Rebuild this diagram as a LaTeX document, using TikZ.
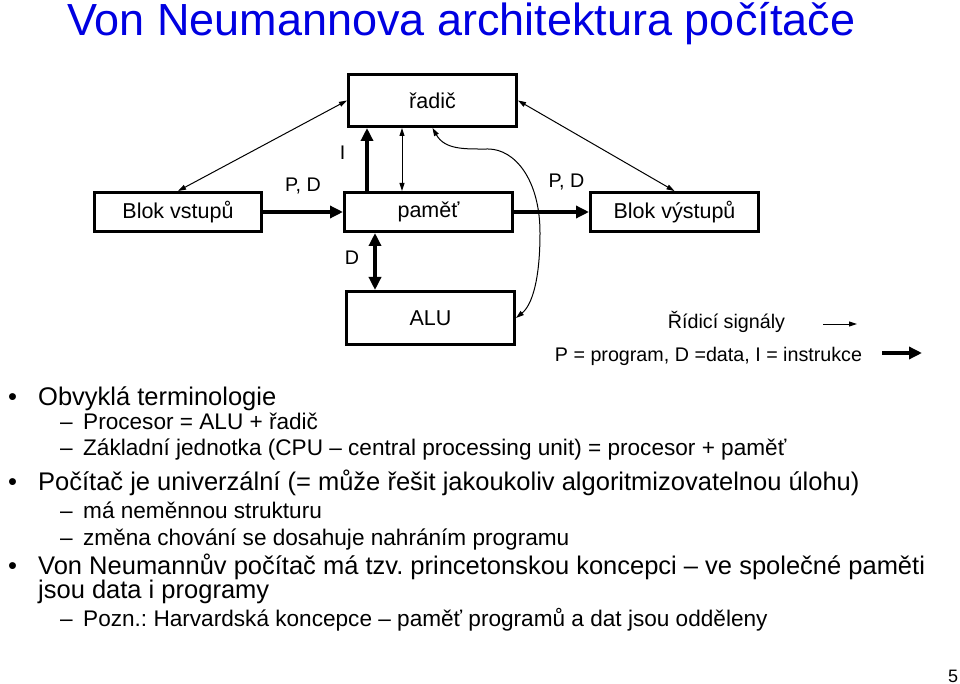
\documentclass[tikz,border=0pt]{standalone}
\usepackage{fontspec}
\setmainfont{Liberation Sans}
\usetikzlibrary{calc, arrows.meta}
\definecolor{titleblue}{RGB}{0,0,225}
\frenchspacing

\begin{document}
\begin{tikzpicture}[x=1pt,y=-1pt,
        blok/.style={draw, line width=3pt, inner sep=0pt, font=\fontsize{21.5}{26}\selectfont},
        lbl/.style={inner sep=0pt, anchor=base, font=\fontsize{19.7}{24}\selectfont},
        lone/.style={inner sep=0pt, anchor=base west, font=\fontsize{25.5}{30}\selectfont},
        ltwo/.style={inner sep=0pt, anchor=base west, font=\fontsize{22.6}{26}\selectfont},
        datatok/.style={line width=4pt, -{Triangle[length=13pt,width=12pt]}},
        datatok2/.style={line width=4pt, {Triangle[length=13pt,width=12pt]}-{Triangle[length=13pt,width=12pt]}},
        rizeni/.style={line width=1pt, {Triangle[length=8pt,width=5pt]}-{Triangle[length=8pt,width=5pt]}}]
            \useasboundingbox (0,0) rectangle (960,684);
            \node[inner sep=0pt, anchor=base west, text=titleblue, font=\fontsize{45}{50}\selectfont] (title) at (67,36) {Von Neumannova architektura počítače};
            % bloky
            \node[blok, minimum width=168pt, minimum height=52pt] (radic) at (432.5,100.5) {řadič};
            \node[blok, minimum width=168pt, minimum height=39pt] (mem) at (428.5,212) {paměť};
            \node[blok, minimum width=168pt, minimum height=53pt] (alu) at (430.5,318) {ALU};
            \node[blok, minimum width=167pt, minimum height=39pt] (vstup) at (178,212) {Blok vstupů};
            \node[blok, minimum width=168pt, minimum height=39pt] (vystup) at (674.5,212) {Blok výstupů};
            % toky dat
            \draw[datatok] (vstup.east) -- (mem.west);
            \draw[datatok] (mem.east) -- (vystup.west);
            \coordinate (iz) at ([xshift=24pt]mem.north west);
            \coordinate (rz) at ([xshift=59pt]mem.north west);
            \coordinate (dz) at ([xshift=32pt]mem.south west);
            \draw[datatok] (iz) -- (iz |- radic.south);
            \draw[datatok2] (dz) -- (dz |- alu.north);
            % ridici signaly
            \draw[rizeni] (vstup.north) -- (radic.west);
            \draw[rizeni] (radic.east) -- (vystup.north);
            \draw[rizeni] (rz) -- (rz |- radic.south);
            \draw[rizeni] (radic.south) .. controls (445,150) and (465,149) .. (488,149)
                .. controls (515,149) and (540,180) .. (540,233)
                .. controls (540,280) and (532,305) .. (alu.east);
            \node[lbl] (pd1) at (303,192) {P, D};
            \node[lbl] (pd2) at (566.5,188) {P, D};
            \node[lbl] (li) at (342.5,160) {I};
            \node[lbl] (ld) at (352,265) {D};
            % legenda
            \node[lbl] (leg1) at (726.5,328) {Řídicí signály};
            \node[lbl] (leg2) at (708.5,361) {P = program, D =data, I = instrukce};
            \coordinate (r1) at (823,324);
            \coordinate (r2) at (857,324);
            \coordinate (d1) at (882,353);
            \coordinate (d2) at (922,353);
            \draw[line width=1pt, -{Triangle[length=8pt,width=5pt]}] (r1) -- (r2);
            \draw[datatok] (d1) -- (d2);
            % text
            \node[lone] (t1) at (8,405) {\makebox[30pt][l]{•}Obvyklá terminologie};
            \node[ltwo] (t2) at (60,429) {\makebox[23pt][l]{–}Procesor = ALU + řadič};
            \node[ltwo] (t3) at (60,455) {\makebox[23pt][l]{–}Základní jednotka (CPU – central processing unit) = procesor + paměť};
            \node[lone] (t4) at (8,490) {\makebox[30pt][l]{•}Počítač je univerzální (= může řešit jakoukoliv algoritmizovatelnou úlohu)};
            \node[ltwo] (t5) at (60,518) {\makebox[23pt][l]{–}má neměnnou strukturu};
            \node[ltwo] (t6) at (60,545) {\makebox[23pt][l]{–}změna chování se dosahuje nahráním programu};
            \node[lone] (t7) at (8,574) {\makebox[30pt][l]{•}Von Neumannův počítač má tzv. princetonskou koncepci – ve společné paměti};
            \node[lone] (t8) at (38,598) {jsou data i programy};
            \node[ltwo] (t9) at (60,626) {\makebox[23pt][l]{–}Pozn.: Harvardská koncepce – paměť programů a dat jsou odděleny};
            \node[inner sep=0pt, anchor=base, font=\fontsize{18}{20}\selectfont] (page) at (953,682) {5};
        \end{tikzpicture}
\end{document}
